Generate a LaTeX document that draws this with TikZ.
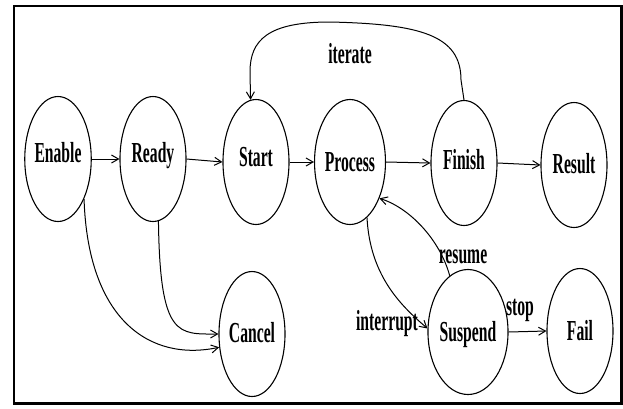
\documentclass[tikz,border=0pt]{standalone}
\usepackage{fontspec}
\setmainfont{Liberation Serif}
\usetikzlibrary{arrows.meta,shapes.geometric}
% condensed bold labels, optionally raised
\newcommand{\lbl}[2][0pt]{\raisebox{#1}{\scalebox{0.54}[1]{\fontsize{29}{31}\selectfont\bfseries #2}}}
\begin{document}
\begin{tikzpicture}[x=1pt,y=-1pt,
  state/.style={draw, ellipse, minimum width=66pt, minimum height=125pt, inner sep=0pt,
    line width=1.1pt, text height=19pt, text depth=0pt},
  arr/.style={line width=1pt, -{Straight Barb[length=7pt,width=8pt,line width=1pt]}},
  tag/.style={inner sep=0pt, text height=19pt, text depth=0pt}]
  \useasboundingbox (0,0) rectangle (623,408);
  \draw[line width=2.5pt] (14.2,6.2) rectangle (621.5,403.5);

  \node[state] (Enable)  at (58,159)  {\lbl[6.5pt]{Enable}};
  \node[state] (Ready)   at (153,159) {\lbl[6pt]{Ready}};
  \node[state] (Start)   at (256,162) {\lbl[5pt]{Start}};
  \node[state] (Process) at (350,162) {\lbl{Process}};
  \node[state] (Finish)  at (464,163) {\lbl[3.5pt]{Finish}};
  \node[state] (Result)  at (574,165) {\lbl[1pt]{Result}};
  \node[state] (Cancel)  at (252,334) {\lbl[1pt]{Cancel}};
  \node[state] (Suspend) at (468,332) {\lbl{Suspend}};
  \node[state] (Fail)    at (580,331) {\lbl{Fail}};

  \draw[arr] (Enable.east) -- (Ready.west);
  \draw[arr] (Ready.east) -- (Start.west);
  \draw[arr] (Start.east) -- (Process.west);
  \draw[arr] (Process.east) -- (Finish.west);
  \draw[arr] (Finish.east) -- (Result.west);
  \draw[arr] (Suspend.east) -- (Fail.west);

  \draw[arr] (Finish.north) -- (461,80) .. controls (461,35) and (420,24) .. (330,22)
             .. controls (268,22) and (250,40) .. (250,72) -- (Start.95);
  \draw[arr] (Enable.-57) .. controls (88,320) and (150,362) .. (Cancel.202);
  \draw[arr] (Ready.-85) .. controls (160,338) and (178,334) .. (Cancel.west);
  \draw[arr] (Process.-73) .. controls (370,275) and (400,305) .. (Suspend.175);
  \draw[arr] (Suspend.108) .. controls (440,240) and (410,208) .. (Process.-51);

  \node[tag] (iterate)   at (350,54)  {\lbl{iterate}};
  \node[tag] (resume)    at (463,254) {\lbl{resume}};
  \node[tag] (stop)      at (520,306) {\lbl{stop}};
  \node[tag] (interrupt) at (387,321) {\lbl{interrupt}};
\end{tikzpicture}
\end{document}
